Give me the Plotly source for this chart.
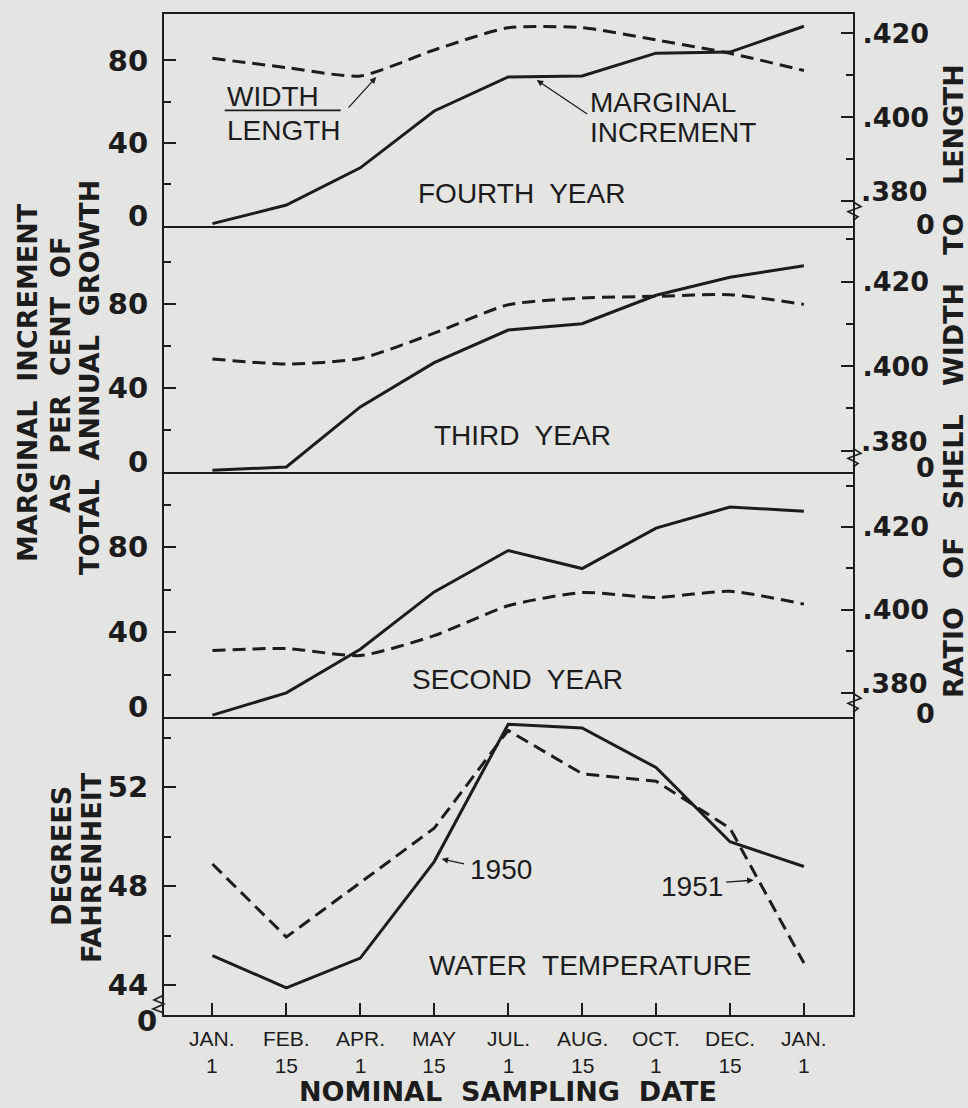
import plotly.graph_objects as go
from plotly.subplots import make_subplots

# ---------------- data ----------------
months = ["JAN.", "FEB.", "APR.", "MAY", "JUL.", "AUG.", "OCT.", "DEC.", "JAN."]
days = ["1", "15", "1", "15", "1", "15", "1", "15", "1"]

increment_4th = [1, 10, 28, 55.5, 72, 72.5, 83.5, 84, 96.5]
ratio_4th = [0.4140, 0.4118, 0.4098, 0.4160, 0.4213, 0.4213, 0.4184, 0.4152, 0.4111]

increment_3rd = [1, 2.5, 31, 52, 67.5, 70.5, 84, 92.5, 98]
ratio_3rd = [0.4017, 0.4005, 0.4018, 0.4078, 0.4145, 0.4161, 0.4165, 0.4169, 0.4146]

increment_2nd = [1, 11.5, 32, 59, 78.5, 70, 89, 99, 97]
ratio_2nd = [0.3902, 0.3907, 0.3890, 0.3938, 0.4010, 0.4042, 0.4030, 0.4045, 0.4014]

temp_1950 = [45.2, 43.9, 45.1, 49.0, 54.55, 54.4, 52.8, 49.8, 48.8]
temp_1951 = [48.9, 45.95, 48.15, 50.35, 54.3, 52.55, 52.25, 50.35, 44.9]

panel_labels = ["FOURTH  YEAR", "THIRD  YEAR", "SECOND  YEAR", "WATER  TEMPERATURE"]

inc_ticks = [0, 40, 80]
ratio_ticks = [0.380, 0.400, 0.420]
temp_ticks = [44, 48, 52]

# ---------------- style ----------------
INK = "#1c1c1c"
BG = "#e4e4e2"
W, H = 968, 1108
ML, MR, MT, MB = 164, 115, 14, 93
PW, PH = W - ML - MR, H - MT - MB
TICKFONT = dict(family="DejaVu Sans", size=29, color=INK, weight="bold")
RTICKFONT = dict(family="DejaVu Sans", size=27, color=INK, weight="bold")
LABFONT = dict(family="Liberation Sans, Arial", size=28, color=INK)
XTFONT = dict(family="Liberation Sans, Arial", size=21, color=INK)
TITLEFONT = dict(family="DejaVu Sans", size=27, color=INK, weight="bold")
LW = 3


def px(xp):
    return (xp - ML) / PW


def py(yp):
    return (MT + PH - yp) / PH


x = list(range(len(months)))

fig = make_subplots(
    rows=4, cols=1,
    specs=[[{"secondary_y": True}], [{"secondary_y": True}], [{"secondary_y": True}], [{}]],
    shared_xaxes=True, vertical_spacing=0,
)

solid = dict(color=INK, width=LW)
dashed = dict(color=INK, width=LW, dash="13px,7px", shape="spline", smoothing=0.6)

for r, (inc, rat) in enumerate([(increment_4th, ratio_4th),
                                (increment_3rd, ratio_3rd),
                                (increment_2nd, ratio_2nd)], start=1):
    fig.add_trace(go.Scatter(x=x, y=inc, mode="lines", line=solid, showlegend=False,
                             hoverinfo="skip"), row=r, col=1, secondary_y=False)
    fig.add_trace(go.Scatter(x=x, y=rat, mode="lines", line=dashed, showlegend=False,
                             hoverinfo="skip"), row=r, col=1, secondary_y=True)

fig.add_trace(go.Scatter(x=x, y=temp_1950, mode="lines", line=solid, showlegend=False,
                         hoverinfo="skip"), row=4, col=1)
fig.add_trace(go.Scatter(x=x, y=temp_1951, mode="lines",
                         line=dict(color=INK, width=LW, dash="13px,7px"),
                         showlegend=False, hoverinfo="skip"), row=4, col=1)

# domains (pixel boundaries of the four panels)
bounds = [14.3, 225.7, 472.3, 717.3, 1015]
domains = [[py(bounds[i + 1]), min(1.0, py(bounds[i]))] for i in range(4)]
xrange_ = [-0.655, 8.664]

for r in range(1, 5):
    fig.update_xaxes(row=r, col=1, range=xrange_, showline=True, linecolor=INK, linewidth=2,
                     mirror=(r == 1), showgrid=False, zeroline=False, domain=[0, 1],
                     ticks="", showticklabels=False)
fig.update_xaxes(row=4, col=1, tickmode="array", tickvals=x,
                 ticks="inside", ticklen=12, tickwidth=2, tickcolor=INK,
                 showticklabels=False)

left_ranges = [[0, 102.3], [0, 117], [0, 115.3]]
left_minor = [[20, 60], [20, 60, 100], [20, 60, 100]]
right_ranges = [[0.3741, 0.4245], [0.3749, 0.4332], [0.3741, 0.4332]]

for r in range(1, 4):
    fig.update_yaxes(row=r, col=1, secondary_y=False, domain=domains[r - 1],
                     range=left_ranges[r - 1], tickmode="array", tickvals=inc_ticks,
                     ticktext=["" if v == 0 else str(v) for v in inc_ticks],
                     ticks="inside", ticklen=12, tickwidth=2, tickcolor=INK,
                     minor=dict(tickmode="array", tickvals=left_minor[r - 1], ticks="inside",
                                ticklen=7, tickwidth=2, tickcolor=INK),
                     showline=True, linecolor=INK, linewidth=2, showgrid=False,
                     zeroline=False, tickfont=TICKFONT, ticklabelstandoff=8)
    fig.update_yaxes(row=r, col=1, secondary_y=True, domain=domains[r - 1],
                     range=right_ranges[r - 1], tickmode="array", tickvals=ratio_ticks,
                     ticktext=["" if v == min(ratio_ticks) else f"{v:.3f}".lstrip("0")
                               for v in ratio_ticks],
                     ticks="inside", ticklen=12, tickwidth=2, tickcolor=INK,
                     minor=dict(tickmode="array", tickvals=[0.390, 0.410, 0.430], ticks="inside",
                                ticklen=7, tickwidth=2, tickcolor=INK),
                     showline=True, linecolor=INK, linewidth=2, showgrid=False,
                     zeroline=False, tickfont=RTICKFONT, ticklabelstandoff=2)

fig.update_yaxes(row=4, col=1, domain=domains[3], range=[42.8, 54.83], tickmode="array",
                 tickvals=temp_ticks, ticktext=[str(v) for v in temp_ticks],
                 ticks="inside", ticklen=12, tickwidth=2, tickcolor=INK,
                 minor=dict(tickmode="array", tickvals=[46, 50, 54], ticks="inside",
                            ticklen=7, tickwidth=2, tickcolor=INK),
                 showline=True, mirror=True, linecolor=INK, linewidth=2, showgrid=False,
                 zeroline=False, tickfont=TICKFONT, ticklabelstandoff=8)

annotations = []


def note(**kw):
    base = dict(showarrow=False, xanchor="center", yanchor="middle")
    base.update(kw)
    annotations.append(base)


# x tick labels (two lines each, one text per tick)
for i, (m, d) in enumerate(zip(months, days)):
    note(xref="x4", yref="paper", x=x[i], y=py(1052), text=f"{m}<br>{d}", font=XTFONT)

# lifted axis-bottom labels ("0" left, ".380" right, "0" after the right-axis break)
for yl, yr in [("y", "y2"), ("y3", "y4"), ("y5", "y6")]:
    note(xref="paper", yref=yl, x=px(150), y=inc_ticks[0], text=str(inc_ticks[0]),
         font=TICKFONT, xanchor="right", yshift=10)
    note(xref="paper", yref=yr, x=px(859), y=ratio_ticks[0],
         text=f"{ratio_ticks[0]:.3f}".lstrip("0"), font=RTICKFONT, xanchor="left",
         yshift=9)
for yb in [224, 467, 713]:
    note(xref="paper", yref="paper", x=px(925), y=py(yb), text="0", font=RTICKFONT)
note(xref="paper", yref="paper", x=px(147), y=py(1021), text="0", font=TICKFONT)

# panel labels
label_pos = [("x", "y", 4.18, 15.8), ("x2", "y3", 4.19, 17.5),
             ("x3", "y5", 4.12, 17.6), ("x4", "y7", 5.12, 44.82)]
for text, (xr, yr, xv, yv) in zip(panel_labels, label_pos):
    note(xref=xr, yref=yr, x=xv, y=yv, text=text, font=LABFONT)

# fourth year key labels
note(xref="x", yref="y", x=0.166, y=62.3, text="WIDTH", font=LABFONT, xanchor="left")
note(xref="x", yref="y", x=0.166, y=46.3, text="LENGTH", font=LABFONT, xanchor="left")
note(xref="x", yref="y", x=5.08, y=59.8, text="MARGINAL", font=LABFONT, xanchor="left")
note(xref="x", yref="y", x=5.08, y=45.3, text="INCREMENT", font=LABFONT, xanchor="left")
note(xref="x4", yref="y7", x=3.45, y=48.66, text="1950", font=LABFONT, xanchor="left")
note(xref="x4", yref="y7", x=6.48, y=47.98, text="1951", font=LABFONT)

arrow = dict(text="", showarrow=True, arrowhead=2, arrowsize=1, arrowwidth=1.3,
             arrowcolor=INK)
annotations += [
    dict(arrow, xref="x", yref="y", x=2.215, y=71.9, ax=-29, ay=32),
    dict(arrow, xref="x", yref="y", x=4.386, y=70.5, ax=52, ay=35),
    dict(arrow, xref="x4", yref="y7", x=3.10, y=49.1, ax=24, ay=5),
    dict(arrow, xref="x4", yref="y7", x=7.32, y=48.25, ax=-29, ay=2),
]

# axis titles
note(xref="paper", yref="paper", x=px(28), y=py(383), text="MARGINAL  INCREMENT",
     textangle=-90, font=TITLEFONT)
note(xref="paper", yref="paper", x=px(60), y=py(375), text="AS  PER  CENT  OF",
     textangle=-90, font=TITLEFONT)
note(xref="paper", yref="paper", x=px(89), y=py(378), text="TOTAL  ANNUAL  GROWTH",
     textangle=-90, font=TITLEFONT)
note(xref="paper", yref="paper", x=px(953), y=py(381),
     text="RATIO   OF   SHELL   WIDTH   TO   LENGTH", textangle=-90, font=TITLEFONT)
note(xref="paper", yref="paper", x=px(62), y=py(856), text="DEGREES",
     textangle=-90, font=TITLEFONT)
note(xref="paper", yref="paper", x=px(91), y=py(868), text="FAHRENHEIT",
     textangle=-90, font=TITLEFONT)
note(xref="paper", yref="paper", x=px(508), y=py(1091), text="NOMINAL  SAMPLING  DATE",
     font=dict(TITLEFONT, size=27))

shapes = []
# fraction bar between WIDTH and LENGTH
shapes.append(dict(type="line", xref="x", yref="y", x0=0.166, x1=1.735, y0=55.8, y1=55.8,
                   line=dict(color=INK, width=1.8)))

# zigzag break marks
for yb in [225.7, 472.3, 717.3]:
    pts = [(853, yb - 24), (861, yb - 19), (848, yb - 14), (858, yb - 9), (853, yb - 5)]
    path = "M " + " L ".join(f"{px(a):.5f},{py(b):.5f}" for a, b in pts)
    shapes.append(dict(type="path", xref="paper", yref="paper", path=path,
                       line=dict(color=INK, width=1.6)))
pts = [(164, 995), (154, 1000), (164, 1004), (153, 1009), (164, 1013)]
path = "M " + " L ".join(f"{px(a):.5f},{py(b):.5f}" for a, b in pts)
shapes.append(dict(type="path", xref="paper", yref="paper", path=path,
                   line=dict(color=INK, width=1.6)))

fig.update_layout(
    width=W, height=H,
    margin=dict(l=ML, r=MR, t=MT, b=MB, pad=0),
    paper_bgcolor=BG, plot_bgcolor=BG,
    annotations=annotations, shapes=shapes,
    showlegend=False,
)

fig.write_html("out.html", config={"displayModeBar": False},
               post_script="document.body.style.margin='0';")
